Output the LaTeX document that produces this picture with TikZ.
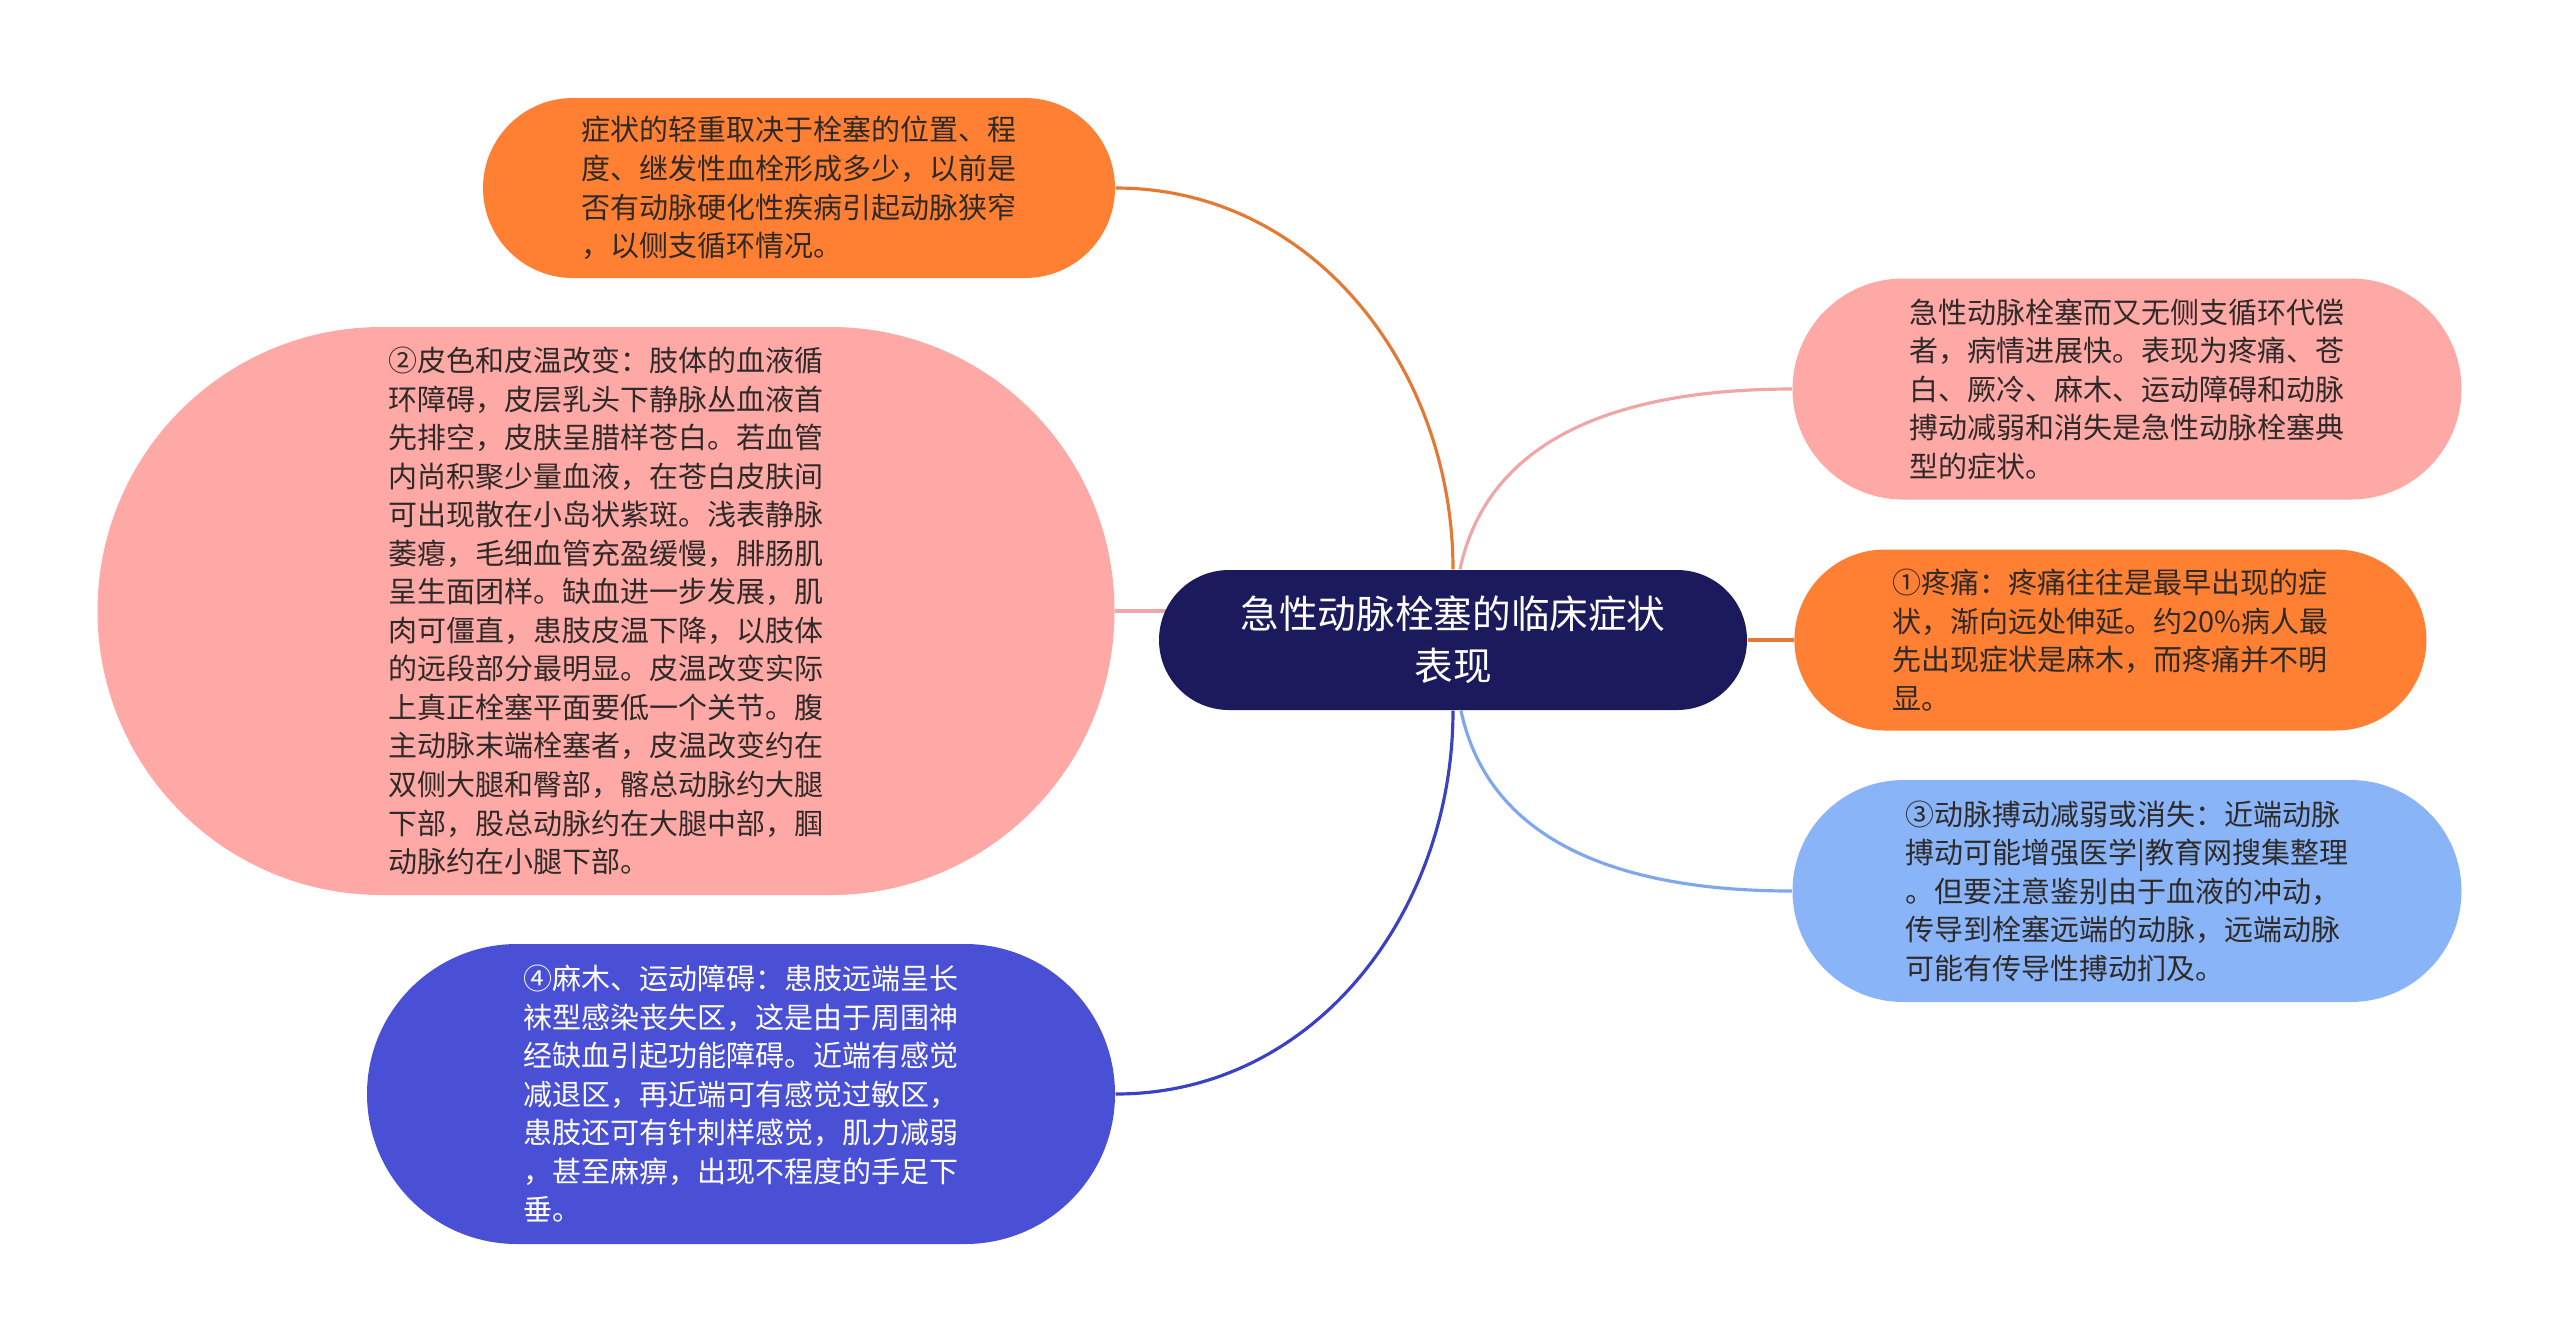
\documentclass[tikz,border=0pt]{standalone}
\usepackage{fontspec}
\setmainfont{Noto Sans CJK SC}
\usetikzlibrary{positioning}
\usetikzlibrary{shapes.misc,backgrounds}

\definecolor{rootblue}{HTML}{1B1A5C}
\definecolor{orangefill}{HTML}{FF7F33}
\definecolor{orangeline}{HTML}{E37A33}
\definecolor{pinkfill}{HTML}{FFA9A7}
\definecolor{pinkline}{HTML}{F0A6A6}
\definecolor{skyfill}{HTML}{8AB4F8}
\definecolor{skyline}{HTML}{7FA8EC}
\definecolor{violetfill}{HTML}{4A50D5}
\definecolor{violetline}{HTML}{3B42C0}
\definecolor{darktext}{HTML}{2E2A28}

\tikzset{
  topic/.style={rounded rectangle, inner sep=0pt, align=left, text=darktext,
    font=\fontsize{8.25pt}{10.96pt}\selectfont},
  orangebox/.style={topic, fill=orangefill},
  pinkbox/.style={topic, fill=pinkfill},
  skybox/.style={topic, fill=skyfill},
  violetbox/.style={topic, fill=violetfill, text=white},
  link/.style={line width=0.9pt},
}

\begin{document}
\begin{tikzpicture}
  \useasboundingbox (0,0) rectangle (25.6,-13.41);

  \node [rounded rectangle, fill=rootblue, text=white, align=center, inner sep=0pt,
    minimum width=5.88cm, minimum height=1.4cm,
    font=\fontsize{11pt}{14.8pt}\selectfont] (root) at (14.53,-6.40) {急性动脉栓塞的临床症状\\表现};

  \node [orangebox, minimum width=6.32cm, minimum height=1.80cm] (degree) at (7.99,-1.88)
    {症状的轻重取决于栓塞的位置、程\\度、继发性血栓形成多少，以前是\\否有动脉硬化性疾病引起动脉狭窄\\，以侧支循环情况。};
  \node [pinkbox, minimum width=10.17cm, minimum height=5.68cm] (skin) at (6.06,-6.11)
    {②皮色和皮温改变：肢体的血液循\\环障碍，皮层乳头下静脉丛血液首\\先排空，皮肤呈腊样苍白。若血管\\内尚积聚少量血液，在苍白皮肤间\\可出现散在小岛状紫斑。浅表静脉\\萎瘪，毛细血管充盈缓慢，腓肠肌\\呈生面团样。缺血进一步发展，肌\\肉可僵直，患肢皮温下降，以肢体\\的远段部分最明显。皮温改变实际\\上真正栓塞平面要低一个关节。腹\\主动脉末端栓塞者，皮温改变约在\\双侧大腿和臀部，髂总动脉约大腿\\下部，股总动脉约在大腿中部，腘\\动脉约在小腿下部。};
  \node [violetbox, minimum width=7.48cm, minimum height=3.00cm] (numb) at (7.41,-10.94)
    {④麻木、运动障碍：患肢远端呈长\\袜型感染丧失区，这是由于周围神\\经缺血引起功能障碍。近端有感觉\\减退区，再近端可有感觉过敏区，\\患肢还可有针刺样感觉，肌力减弱\\，甚至麻痹，出现不程度的手足下\\垂。};
  \node [pinkbox, minimum width=6.69cm, minimum height=2.21cm] (acute) at (21.27,-3.89)
    {急性动脉栓塞而又无侧支循环代偿\\者，病情进展快。表现为疼痛、苍\\白、厥冷、麻木、运动障碍和动脉\\搏动减弱和消失是急性动脉栓塞典\\型的症状。};
  \node [orangebox, minimum width=6.32cm, minimum height=1.81cm, right=0.46cm of root] (pain)
    {①疼痛：疼痛往往是最早出现的症\\状，渐向远处伸延。约20\%病人最\\先出现症状是麻木，而疼痛并不明\\显。};
  \node [skybox, minimum width=6.69cm, minimum height=2.22cm] (pulse) at (21.27,-8.91)
    {③动脉搏动减弱或消失：近端动脉\\搏动可能增强医学|教育网搜集整理\\。但要注意鉴别由于血液的冲动，\\传导到栓塞远端的动脉，远端动脉\\可能有传导性搏动扪及。};

  \begin{pgfonlayer}{background}
    \fill [white] (0,0) rectangle (25.6,-13.41);
    \draw [link, orangeline] (root.north) to[out=90, in=0] (degree.east);
    \draw [link, pinkline] ([xshift=0.07cm]root.north) to[out=78, in=180] (acute.west);
    \draw [link, pinkline] (skin.east) -- (skin.east -| root.center);
    \draw [link, orangeline] (root.east) -- (pain.west);
    \draw [link, violetline] (root.south) to[out=-90, in=0] (numb.east);
    \draw [link, skyline] ([xshift=0.08cm]root.south) to[out=-78, in=180] (pulse.west);
  \end{pgfonlayer}
\end{tikzpicture}
\end{document}
